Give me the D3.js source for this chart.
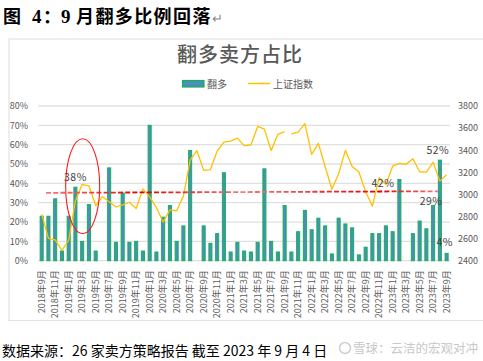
<!DOCTYPE html>
<html>
<head>
<meta charset="utf-8">
<script src="https://cdn.jsdelivr.net/npm/d3@7"></script>
<style>
  body { margin: 0; background: #fff; }
  text { font-family: "Noto Sans CJK SC", "Noto Sans", sans-serif; }
</style>
</head>
<body>
<script>
// Months shown on the category axis (Sep 2018 - Sep 2023)
const months = [];
for (let y = 2018; y <= 2023; y++) {
    for (let m = 1; m <= 12; m++) {
        if ((y === 2018 && m < 9) || (y === 2023 && m > 9)) continue;
        months.push(`${y}年${m}月`);
    }
}

// Share of sell-side reports turning bullish (%)
const bullShare = [
    23, 23, 32, 5, 23, 38, 10, 29, 5, 0, 48, 9.5, 35, 9.5, 10,
    5, 70, 4.5, 22.5, 28.5, 10, 18, 57, 0, 18, 9, 14, 45.5, 4.5, 9.5,
    5, 4.5, 9.5, 47.5, 10, 4.5, 28.5, 4.5, 15, 26, 16, 22, 18, 3.5, 22,
    19, 17, 3, 7, 14, 14, 18, 15, 42, 0, 14, 20.5, 16.5, 28.6, 52, 3.8
];

// Shanghai Composite, month end
const shIndex = [
    2821, 2603, 2588, 2494, 2585, 2941, 3091, 3078, 2899, 2979, 2933, 2886, 2905, 2929, 2872,
    3050, 2977, 2880, 2750, 2860, 2852, 2985, 3310, 3396, 3218, 3225, 3392, 3473, 3483, 3509,
    3441, 3447, 3615, 3591, 3397, 3544, 3568, 3547, 3564, 3640, 3362, 3462, 3252, 3047, 3186,
    3399, 3253, 3202, 3024, 2893, 3151, 3089, 3255, 3280, 3273, 3323, 3205, 3202, 3291, 3120, 3177
];

const tickMonths = months.filter((d, i) => i % 2 === 0);
const leftTicks = [0, 10, 20, 30, 40, 50, 60, 70, 80];
const rightTicks = [2400, 2600, 2800, 3000, 3200, 3400, 3600, 3800];
const labelledMonths = ["2019年2月", "2023年2月", "2023年7月", "2023年8月", "2023年9月"];
const lineBreakAfter = "2021年9月";   // the index line has a break here in the source
const refLevel = 35.5;                 // hand drawn dashed line
const circledMonth = "2019年3月";

const W = 483, H = 361;
const plot = { left: 38.3, right: 450, top: 106, bottom: 260.7 };
const grey = "#595959";

const svg = d3.select("body").append("svg")
    .attr("width", W)
    .attr("height", H);

// Figure caption
const cap = svg.append("text")
    .attr("y", 23)
    .attr("font-size", 18)
    .attr("font-weight", "bold")
    .attr("fill", "#000");
cap.append("tspan").attr("x", 3).text("图");
cap.append("tspan").attr("x", 32).attr("font-family", "Liberation Serif").attr("font-size", 19).text("4");
cap.append("tspan").attr("x", 43).text("：");
cap.append("tspan").attr("x", 61).attr("font-family", "Liberation Serif").attr("font-size", 19).text("9");
cap.append("tspan").attr("x", 76).attr("letter-spacing", 1.4).text("月翻多比例回落");
cap.append("tspan").attr("font-weight", "normal").attr("fill", "#888").attr("font-size", 13).text("↵");

// Chart frame
svg.append("rect")
    .attr("x", 9).attr("y", 39)
    .attr("width", W + 10).attr("height", 281.5)
    .attr("fill", "#fff")
    .attr("stroke", "#e3e3e3")
    .attr("stroke-width", 1.2);

svg.append("text")
    .attr("x", 240).attr("y", 62)
    .attr("text-anchor", "middle")
    .attr("font-size", 20)
    .attr("font-weight", 500)
    .attr("letter-spacing", 1)
    .attr("fill", grey)
    .text("翻多卖方占比");

// Legend
svg.append("rect")
    .attr("x", 182.5).attr("y", 80.5).attr("width", 21.5).attr("height", 6.5)
    .attr("fill", "#4b8fb8").attr("stroke", "#14b05a").attr("stroke-width", 1.2);
svg.append("text").attr("x", 207).attr("y", 87.5).attr("font-size", 10).attr("fill", grey).text("翻多");
svg.append("line")
    .attr("x1", 248).attr("x2", 270).attr("y1", 83.5).attr("y2", 83.5)
    .attr("stroke", "#ffc000").attr("stroke-width", 1.5);
svg.append("text").attr("x", 273).attr("y", 87.5).attr("font-size", 10).attr("fill", grey).text("上证指数");

// Scales
const x = d3.scaleBand()
    .domain(months)
    .range([plot.left, plot.right])
    .paddingInner(0.4)
    .paddingOuter(0.2);

const yL = d3.scaleLinear().domain([0, 80]).range([plot.bottom, plot.top]);
const yR = d3.scaleLinear().domain([2400, 3800]).range([plot.bottom, plot.top]);

// Grid lines
svg.append("g")
    .selectAll("line")
    .data(leftTicks)
    .join("line")
    .attr("x1", plot.left).attr("x2", plot.right)
    .attr("y1", d => yL(d)).attr("y2", d => yL(d))
    .attr("stroke", "#e0e0e0")
    .attr("stroke-width", 1.3);

// Axes
const axisL = svg.append("g")
    .attr("transform", "translate(28,0)")
    .call(d3.axisLeft(yL).tickValues(leftTicks).tickSize(0).tickPadding(0).tickFormat(d => d + "%"));
const axisR = svg.append("g")
    .attr("transform", "translate(458,0)")
    .call(d3.axisRight(yR).tickValues(rightTicks).tickSize(0).tickPadding(0).tickFormat(d3.format("d")));
const axisX = svg.append("g")
    .attr("transform", `translate(0,${plot.bottom})`)
    .call(d3.axisBottom(x).tickValues(tickMonths).tickSize(0));
axisX.selectAll("text")
    .attr("transform", "rotate(-90)")
    .attr("x", -9.5)
    .attr("y", 0)
    .attr("dy", "0.35em")
    .attr("text-anchor", "end");

[axisL, axisR, axisX].forEach(g => {
    g.select(".domain").remove();
    g.selectAll("text")
        .attr("fill", grey)
        .attr("font-size", 9)
        .attr("font-family", "Noto Sans CJK SC, sans-serif");
});

// Bars
svg.append("g")
    .selectAll("rect")
    .data(months)
    .join("rect")
    .attr("x", d => x(d) + 0.5)
    .attr("y", (d, i) => yL(bullShare[i]))
    .attr("width", x.bandwidth() - 1)
    .attr("height", (d, i) => yL(0) - yL(bullShare[i]))
    .attr("fill", "#4b8fb8")
    .attr("stroke", "#14b05a")
    .attr("stroke-width", 1)
    .attr("display", (d, i) => bullShare[i] > 0 ? null : "none");

// Index line, drawn in two pieces
const line = d3.line()
    .x(d => x(d.m) + x.bandwidth() / 2)
    .y(d => yR(d.v));
const pts = months.map((m, i) => ({ m, v: shIndex[i] }));
const cut = months.indexOf(lineBreakAfter) + 1;
[pts.slice(0, cut), pts.slice(cut)].forEach(seg => {
    svg.append("path")
        .datum(seg)
        .attr("d", line)
        .attr("fill", "none")
        .attr("stroke", "#ffc000")
        .attr("stroke-width", 1.3)
        .attr("stroke-linejoin", "round");
});

// Dashed reference line
const grad = svg.append("defs").append("linearGradient")
    .attr("id", "redGrad")
    .attr("gradientUnits", "userSpaceOnUse")
    .attr("x1", 46).attr("x2", 438).attr("y1", 0).attr("y2", 0);
[[0, "#f47a7a"], [0.25, "#e00000"], [0.5, "#f47a7a"], [0.85, "#e00000"], [1, "#f47a7a"]]
    .forEach(([o, c]) => grad.append("stop").attr("offset", o).attr("stop-color", c));
svg.append("line")
    .attr("x1", 46).attr("x2", 438)
    .attr("y1", yL(refLevel - 0.4)).attr("y2", yL(refLevel + 0.4))
    .attr("stroke", "url(#redGrad)")
    .attr("stroke-width", 1.8)
    .attr("stroke-dasharray", "5,2.2");

// Red ellipse around the early 2019 spike
svg.append("ellipse")
    .attr("cx", x(circledMonth) + x.bandwidth() / 2 + 0.5)
    .attr("cy", yL(38.5))
    .attr("rx", 17)
    .attr("ry", 47.5)
    .attr("fill", "none")
    .attr("stroke", "#ff1a1a")
    .attr("stroke-width", 1.1);

// Data labels
const labelPos = {
    "2019年2月": { dx: 0, dy: -6, anchor: "middle" },
    "2023年2月": { dx: -5, dy: 8, anchor: "end" },
    "2023年7月": { dx: -2, dy: 0, anchor: "middle" },
    "2023年8月": { dx: -2, dy: -6, anchor: "middle" },
    "2023年9月": { dx: -2, dy: -7, anchor: "middle" }
};
labelledMonths.forEach(m => {
    const i = months.indexOf(m);
    const p = labelPos[m];
    svg.append("text")
        .attr("x", x(m) + x.bandwidth() / 2 + p.dx)
        .attr("y", yL(bullShare[i]) + p.dy)
        .attr("text-anchor", p.anchor)
        .attr("font-size", 10.5)
        .attr("letter-spacing", 0.5)
        .attr("fill", "#404040")
        .text(Math.round(bullShare[i]) + "%");
});

// Source note
svg.append("text")
    .attr("x", 2).attr("y", 356)
    .attr("font-size", 14)
    .attr("fill", "#000")
    .attr("font-family", "Liberation Serif, Noto Sans CJK SC, serif")
    .text("数据来源：26 家卖方策略报告  截至 2023 年 9 月 4 日");

// Watermark
svg.append("circle")
    .attr("cx", 345).attr("cy", 348).attr("r", 5.5)
    .attr("fill", "none").attr("stroke", "#cfcfcf").attr("stroke-width", 1.5);
svg.append("text")
    .attr("x", 353).attr("y", 353)
    .attr("font-size", 12.5)
    .attr("fill", "#c8c8c8")
    .text("雪球：云洁的宏观对冲");
</script>
</body>
</html>
